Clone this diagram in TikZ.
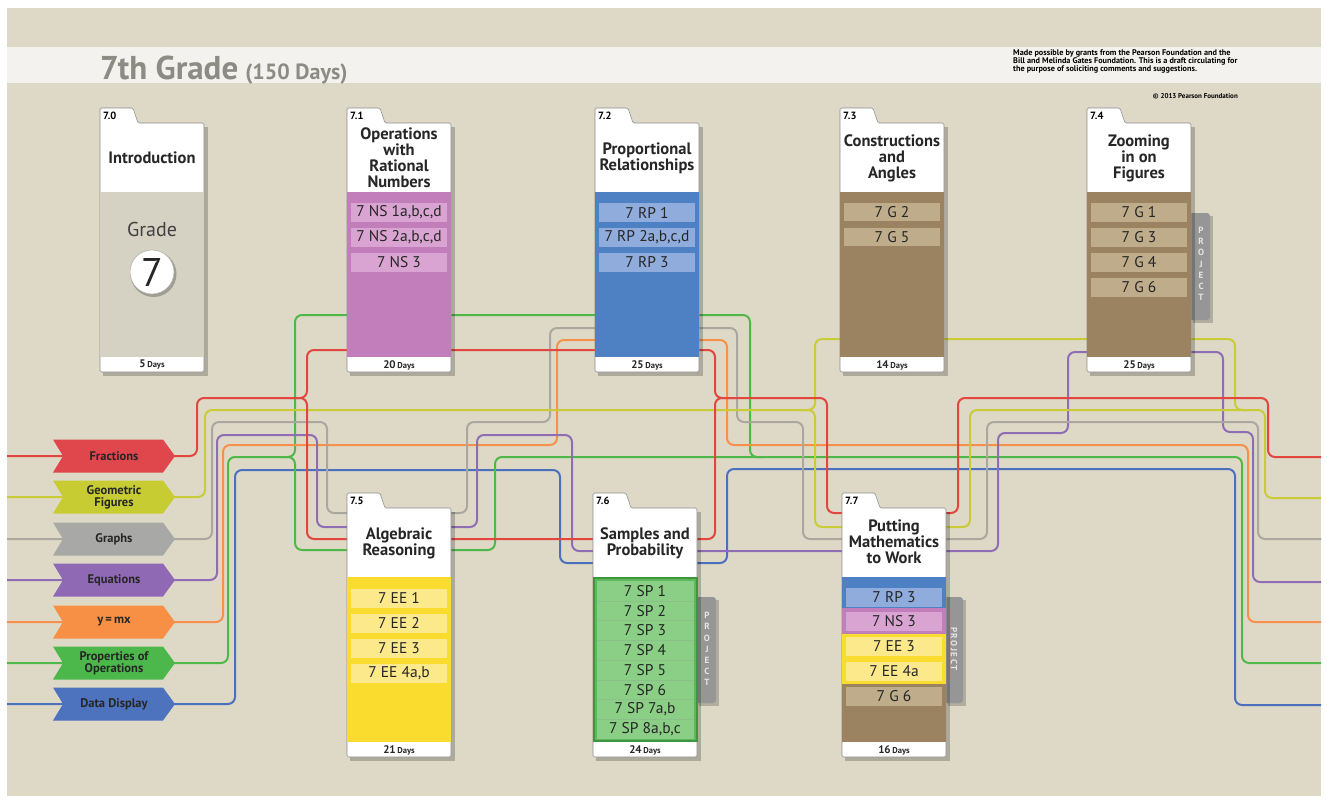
\documentclass[tikz,border=0pt]{standalone}
\usepackage{fontspec}
\setmainfont{PT Sans}
\usetikzlibrary{calc}
\definecolor{bg}{RGB}{222,217,199}
\definecolor{band}{RGB}{243,242,238}
\definecolor{ttlgray}{RGB}{140,140,132}
\definecolor{introBody}{RGB}{214,210,195}
\definecolor{purBody}{RGB}{193,126,186}
\definecolor{purItem}{RGB}{217,164,210}
\definecolor{bluBody}{RGB}{78,129,196}
\definecolor{bluItem}{RGB}{143,172,221}
\definecolor{brnBody}{RGB}{155,131,97}
\definecolor{brnItem}{RGB}{190,172,138}
\definecolor{yelBody}{RGB}{249,220,46}
\definecolor{yelItem}{RGB}{252,233,140}
\definecolor{grnBody}{RGB}{92,184,90}
\definecolor{grnItem}{RGB}{138,207,133}
\definecolor{grnEdge}{RGB}{62,150,62}
\definecolor{projGray}{RGB}{150,150,150}
\definecolor{cRed}{RGB}{226,70,62}
\definecolor{cYel}{RGB}{201,204,54}
\definecolor{cGry}{RGB}{170,167,160}
\definecolor{cPur}{RGB}{143,109,181}
\definecolor{cOrg}{RGB}{247,144,74}
\definecolor{cGrn}{RGB}{80,184,72}
\definecolor{cBlu}{RGB}{75,112,190}
\definecolor{fRed}{RGB}{224,71,76}
\definecolor{fYel}{RGB}{200,204,51}
\definecolor{fGry}{RGB}{168,168,166}
\definecolor{fPur}{RGB}{144,105,181}
\definecolor{fOrg}{RGB}{247,144,69}
\definecolor{fGrn}{RGB}{76,184,76}
\definecolor{fBlu}{RGB}{77,114,190}

\newcommand\fldr[6]{% name, x0, tabtop, number, body colour, days
\begin{scope}[shift={(#2,#3)}]
 \fill[black,opacity=.22] (3,19) rectangle (108,268);
 \draw[draw=black!45, line width=.6pt, fill=white, rounded corners=1.5pt]
   (0,264) -- (0,0) -- (33,0) -- (38,15) -- (104,15) -- (104,264) -- cycle;
 \fill[#5] (0.3,84) rectangle (103.7,249);
 \node[font=\bfseries\fontsize{10.5}{10.5}\selectfont, anchor=west, inner sep=0] (#1-num) at (3,7.5) {#4};
 \node[font=\bfseries, inner sep=0, text=black!85] (#1-days) at (52,257)
   {{\fontsize{11}{11}\selectfont #6}\,{\fontsize{8.5}{9}\selectfont Days}};
\end{scope}}

\newcommand\chev[4]{% name, y, colour, text
 \fill[#3] (53,{#2-16.5}) -- (163,{#2-16.5}) -- (175,#2) -- (163,{#2+16.5}) -- (53,{#2+16.5}) -- (63,#2) -- cycle;
 \node[chevtxt] (#1) at (114,#2) {#4};}

\tikzset{
 ln/.style={line width=2pt, rounded corners=7pt},
 ttl/.style={font=\bfseries\fontsize{16.5}{16}\selectfont, align=center, text=black!85, inner sep=0},
 itm/.style={minimum width=96pt, minimum height=19pt, inner sep=0, font=\fontsize{15.5}{15}\selectfont, text=black!85},
 chevtxt/.style={font=\bfseries\fontsize{12.5}{12}\selectfont, align=center, text=black!85, inner sep=0},
 projtxt/.style={font=\bfseries\fontsize{9}{11.2}\selectfont, align=center, text=white!80!gray, inner sep=0},
}

\begin{document}
\begin{tikzpicture}[x=1pt,y=-1pt]
\useasboundingbox (0,0) rectangle (1327,808);
\fill[white] (0,0) rectangle (1327,808);
\fill[bg] (7,8) rectangle (1321,796);
\fill[band] (7,47) rectangle (1321,83);

% header
\node[anchor=base west, inner sep=0, text=ttlgray, font=\bfseries] (title) at (100,79)
  {{\fontsize{33}{34}\selectfont 7th Grade}\hspace{7pt}{\fontsize{22}{22}\selectfont (150 Days)}};
\node[anchor=north west, inner sep=0, align=left, font=\bfseries\fontsize{8.2}{8.3}\selectfont] (credit) at (1013,49)
  {Made possible by grants from the Pearson Foundation and the\\Bill and Melinda Gates Foundation. This is a draft circulating for\\the purpose of soliciting comments and suggestions.};
\node[anchor=east, inner sep=0, font=\bfseries\fontsize{7}{7}\selectfont] (copy) at (1238,96) {© 2013 Pearson Foundation};

% connector lines
\begin{scope}[ln]
\draw[cBlu] (7,704) -- (235,704) -- (235,470) -- (560,470) -- (560,563) -- (727,563) -- (727,469) -- (1235,469) -- (1235,705) -- (1321,705);
\draw[cGrn] (7,663) -- (228,663) -- (228,457) -- (295,457) -- (295,315) -- (750,315) -- (750,457) -- (1242,457) -- (1242,663) -- (1321,663);
\draw[cGrn] (280,457) -- (295,457) -- (295,550) -- (495,550) -- (495,457) -- (765,457);
\draw[cOrg] (7,622) -- (223,622) -- (223,445) -- (557,445) -- (557,340) -- (727,340) -- (727,445) -- (1248,445) -- (1248,622) -- (1321,622);
\draw[cPur] (7,580) -- (217,580) -- (217,435) -- (317,435) -- (317,527) -- (477,527) -- (477,435) -- (572,435) -- (572,551) -- (998,551) -- (998,433) -- (1068,433) -- (1068,352) -- (1223,352) -- (1223,432) -- (1253,432) -- (1253,582) -- (1321,582);
\draw[cGry] (7,539) -- (212,539) -- (212,422) -- (327,422) -- (327,513) -- (467,513) -- (467,422) -- (550,422) -- (550,328) -- (737,328) -- (737,422) -- (803,422) -- (803,539) -- (987,539) -- (987,422) -- (1258,422) -- (1258,539) -- (1321,539);
\draw[cYel] (7,497) -- (205,497) -- (205,410) -- (815,410) -- (815,339) -- (1235,339) -- (1235,410) -- (1265,410) -- (1265,498) -- (1321,498);
\draw[cYel] (800,410) -- (815,410) -- (815,527) -- (970,527) -- (970,410) -- (1250,410);
\draw[cRed] (7,456) -- (197,456) -- (197,398) -- (307,398) -- (307,350) -- (715,350) -- (715,398) -- (827,398) -- (827,513) -- (958,513) -- (958,398) -- (1268,398) -- (1268,457) -- (1321,457);
\draw[cRed] (290,398) -- (307,398) -- (307,539) -- (715,539) -- (715,398) -- (735,398);
\end{scope}

% project tabs
\fill[black,opacity=.2] (1193,216) rectangle (1213,323);
\fill[projGray, rounded corners=3pt] (1188,213) rectangle (1210,320);
\node[projtxt] (proj4) at (1201,264) {P\\R\\O\\J\\E\\C\\T};
\fill[black,opacity=.2] (699,600) rectangle (719,706);
\fill[projGray, rounded corners=3pt] (694,597) rectangle (716,703);
\node[projtxt] (proj6) at (707,649) {P\\R\\O\\J\\E\\C\\T};
\fill[black,opacity=.2] (948,600) rectangle (966,706);
\fill[projGray, rounded corners=3pt] (941,597) rectangle (963,703);
\node[projtxt, rotate=-90, font=\bfseries\fontsize{9}{9}\selectfont] (proj7) at (954,649) {P\,R\,O\,J\,E\,C\,T};

% folders top
\fldr{f0}{100}{108}{7.0}{introBody}{5}
\fldr{f1}{347}{108}{7.1}{purBody}{20}
\fldr{f2}{595}{108}{7.2}{bluBody}{25}
\fldr{f3}{840}{108}{7.3}{brnBody}{14}
\fldr{f4}{1087}{108}{7.4}{brnBody}{25}
% folders bottom
\fldr{f5}{347}{493}{7.5}{yelBody}{21}
\fldr{f6}{593}{493}{7.6}{grnBody}{24}
\fldr{f7}{842}{493}{7.7}{brnBody}{16}

% titles
\node[ttl] (t0) at (152,158) {Introduction};
\node[ttl] (t1) at (399,158) {Operations\\with\\Rational\\Numbers};
\node[ttl] (t2) at (647,158) {Proportional\\Relationships};
\node[ttl] (t3) at (892,158) {Constructions\\and\\Angles};
\node[ttl] (t4) at (1139,158) {Zooming\\in on\\Figures};
\node[ttl] (t5) at (399,543) {Algebraic\\Reasoning};
\node[ttl] (t6) at (645,543) {Samples and\\Probability};
\node[ttl] (t7) at (894,542) {Putting\\Mathematics\\to Work};

% intro body
\node[inner sep=0, font=\fontsize{20}{20}\selectfont, text=black!75] (grade) at (152,229) {Grade};
\fill[black,opacity=.25] (153.5,274) circle (23);
\draw[fill=white, draw=black!30, line width=.6pt] (152,272) circle (22);
\node[inner sep=0, font=\fontsize{40}{40}\selectfont, text=black!85] (seven) at (152,272) {7};

% 7.1 items
\node[itm, fill=purItem] (ns1) at (399,212.5) {7 NS 1a,b,c,d};
\node[itm, fill=purItem] (ns2) at (399,237.5) {7 NS 2a,b,c,d};
\node[itm, fill=purItem] (ns3) at (399,262.5) {7 NS 3};
% 7.2 items
\node[itm, fill=bluItem] (rp1) at (647,212.5) {7 RP 1};
\node[itm, fill=bluItem] (rp2) at (647,237.5) {7 RP 2a,b,c,d};
\node[itm, fill=bluItem] (rp3) at (647,262.5) {7 RP 3};
% 7.3 items
\node[itm, fill=brnItem, minimum height=18pt] (g2) at (892,212) {7 G 2};
\node[itm, fill=brnItem, minimum height=18pt] (g5) at (892,237) {7 G 5};
% 7.4 items
\node[itm, fill=brnItem] (g1) at (1139,212.5) {7 G 1};
\node[itm, fill=brnItem] (g3) at (1139,237.5) {7 G 3};
\node[itm, fill=brnItem] (g4) at (1139,262.5) {7 G 4};
\node[itm, fill=brnItem] (g6a) at (1139,287.5) {7 G 6};
% 7.5 items
\node[itm, fill=yelItem] (ee1) at (399,598) {7 EE 1};
\node[itm, fill=yelItem] (ee2) at (399,623) {7 EE 2};
\node[itm, fill=yelItem] (ee3) at (399,648) {7 EE 3};
\node[itm, fill=yelItem] (ee4) at (399,673) {7 EE 4a,b};
% 7.6 items
\draw[grnEdge, line width=1.5pt] (594,578) rectangle (697,741);
\fill[grnItem] (597,581) rectangle (694,739);
\foreach \k in {1,...,7} \draw[grnEdge!60, line width=.4pt] (597,{581+19.75*\k}) -- (694,{581+19.75*\k});
\node[itm] (sp1) at (645,590.9) {7 SP 1};
\node[itm] (sp2) at (645,610.6) {7 SP 2};
\node[itm] (sp3) at (645,630.4) {7 SP 3};
\node[itm] (sp4) at (645,650.1) {7 SP 4};
\node[itm] (sp5) at (645,669.9) {7 SP 5};
\node[itm] (sp6) at (645,689.6) {7 SP 6};
\node[itm] (sp7) at (645,709.4) {7 SP 7a,b};
\node[itm] (sp8) at (645,729.1) {7 SP 8a,b,c};
% 7.7 bands and items
\fill[bluBody] (842.3,577) rectangle (945.7,608);
\fill[purBody] (842.3,608) rectangle (945.7,634);
\fill[yelBody] (842.3,634) rectangle (945.7,684);
\node[itm, fill=bluItem] (rp3b) at (894,597) {7 RP 3};
\node[itm, fill=purItem] (ns3b) at (894,621.5) {7 NS 3};
\node[itm, fill=yelItem] (ee3b) at (894,646.5) {7 EE 3};
\node[itm, fill=yelItem] (ee4b) at (894,671.5) {7 EE 4a};
\node[itm, fill=brnItem] (g6b) at (894,696.5) {7 G 6};

% chevrons
\chev{fr}{456}{fRed}{Fractions}
\chev{gf}{497}{fYel}{Geometric\\Figures}
\chev{gr}{539}{fGry}{Graphs}
\chev{eq}{580}{fPur}{Equations}
\chev{ym}{622}{fOrg}{y\,=\,mx}
\chev{po}{663}{fGrn}{Properties of\\Operations}
\chev{dd}{704}{fBlu}{Data Display}
\end{tikzpicture}
\end{document}
